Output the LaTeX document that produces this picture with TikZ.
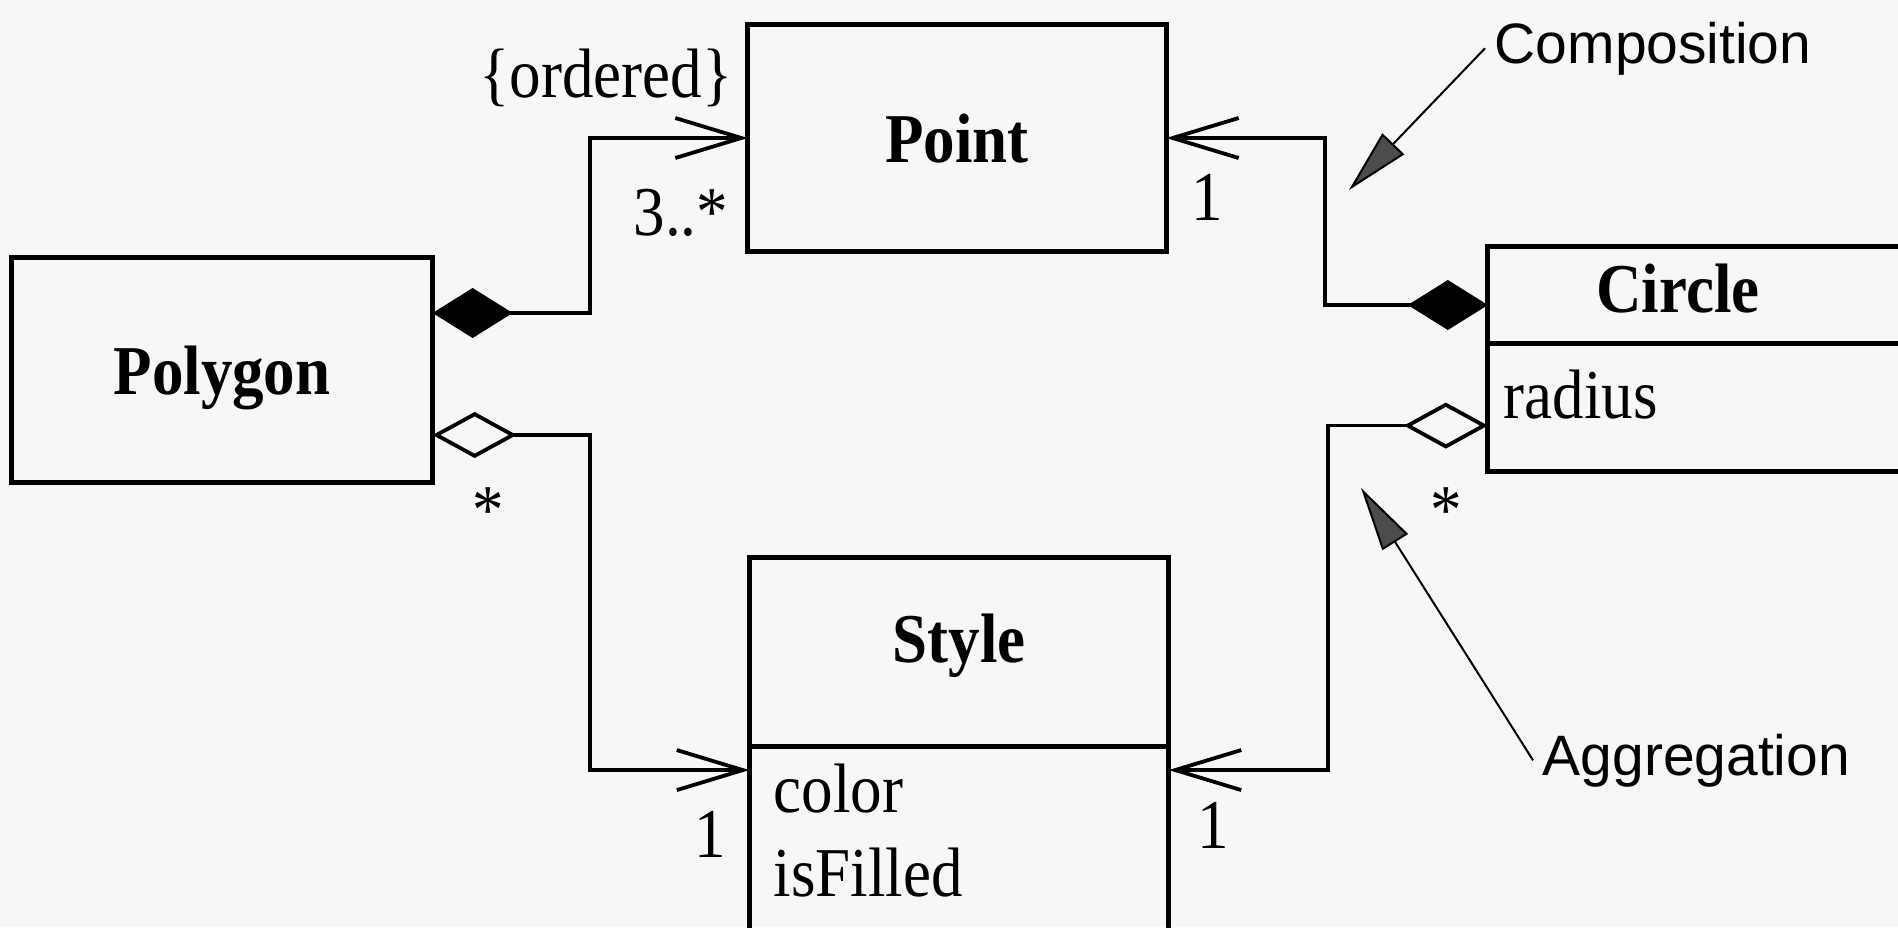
\documentclass[tikz,border=0pt]{standalone}
\usepackage{fontspec}
\setmainfont{Liberation Serif}[FakeStretch=0.9]
\newfontfamily\calloutfont{Liberation Sans}
\usetikzlibrary{arrows.meta,calc,positioning}
\newcommand\umlsize{\fontsize{19.9}{23.9}\selectfont}

\begin{document}
\begin{tikzpicture}[x=0.01cm, y=-0.01cm,
	classbox/.style={draw, rectangle, line width=0.5mm, inner sep=0pt, outer sep=0pt,
		font=\umlsize\bfseries, text height=4.8mm, text depth=0pt},
	classname/.style={inner sep=0pt, font=\umlsize\bfseries},
	attr/.style={anchor=base west, inner sep=0pt, font=\umlsize},
	mult/.style={anchor=base, inner sep=0pt, font=\umlsize},
	callouttext/.style={anchor=base west, inner xsep=0.9mm, inner ysep=0pt,
		font=\calloutfont\fontsize{16.2}{19}\selectfont},
	comp/.style={line width=0.38mm,
		{Diamond[length=8mm,width=5mm]}-{Straight Barb[length=6.6mm,width=4mm]}},
	agg/.style={line width=0.38mm,
		{Diamond[open,length=8.4mm,width=4.6mm]}-{Straight Barb[length=6.6mm,width=4mm]}},
	callout/.style={line width=0.2mm,
		-{Triangle[length=6.4mm,width=3mm,fill=black!70]}}]
	%%%%% START %%%%%

	\useasboundingbox (0,0) rectangle (1898,927);
	\clip (0,0) rectangle (1898,927);
	\fill[black!3] (0,0) rectangle (1898,927);

	% classes
	\node[classbox, minimum width=4.18cm, minimum height=2.27cm] (point) at (957,138) {Point};
	\node[classbox, minimum width=4.21cm, minimum height=2.25cm] (polygon) at (222,370) {Polygon};

	\node[classbox, minimum width=4.72cm, minimum height=0.97cm] (circle) at (1724,295) {};
	\node[classbox, minimum width=4.72cm, minimum height=1.28cm, below=0pt of circle] (circleattr) {};
	\node[classname] (circlename) at (1678,289) {Circle};
	\node[attr] (radius) at (1503,418) {radius};

	\node[classbox, minimum width=4.19cm, minimum height=1.88cm, text depth=2.8mm] (style) at (959,652) {Style};
	\node[classbox, minimum width=4.19cm, minimum height=2.14cm, below=0pt of style] (styleattr) {};
	\node[attr] (colorattr) at (773,812) {color};
	\node[attr] (isfilled) at (773,896) {isFilled};

	% associations
	\draw[comp] ($(polygon.east)+(0,-57)$) -- ++(157,0) |- (point.west);
	\draw[agg] ($(polygon.east)+(0,65)$) -- ++(157,0) |- ($(styleattr.north west)+(0,24)$);
	\draw[comp] ($(circle.west)+(0,10)$) -- ++(-163,0) |- (point.east);
	\draw[agg] ($(circleattr.west)+(0,18)$) -- ++(-160,0) |- ($(styleattr.north east)+(0,24)$);

	% multiplicities
	\node[mult] (ordered) at (606,97) {\{ordered\}};
	\node[mult, anchor=base west] (polypoints) at (633,235) {3..*};
	\node[mult] (polystar) at (488,533) {*};
	\node[mult] (pointone) at (1207,220) {1};
	\node[mult] (styleonea) at (710,857) {1};
	\node[mult] (styleoneb) at (1213,848) {1};
	\node[mult] (circlestar) at (1446,533) {*};

	% callouts
	\node[callouttext] (comptext) at (1485,63) {Composition};
	\coordinate (comptip) at (1349,190);
	\draw[callout] (comptext.west) -- (comptip);

	\node[callouttext] (aggtext) at (1533,775) {Aggregation};
	\coordinate (aggtip) at (1361,488);
	\draw[callout] (aggtext.west) -- (aggtip);

	%%%%% END %%%%%
\end{tikzpicture}
\end{document}
